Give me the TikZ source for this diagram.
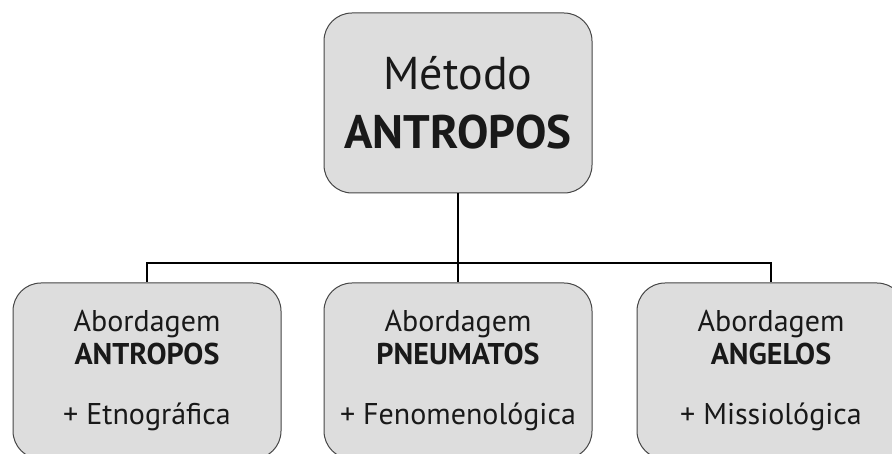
\documentclass[tikz,border=0pt]{standalone}
\usepackage{fontspec}
\setmainfont{PT Sans}
\usepackage{xcolor}
\usetikzlibrary{calc}
\definecolor{boxgray}{RGB}{221,221,221}
\definecolor{edgegray}{RGB}{70,70,70}

\begin{document}
\begin{tikzpicture} [x=1pt, y=-1pt,
    bloco/.style={draw=edgegray, fill=boxgray, rounded corners=28pt, line width=1pt,
      minimum width=268pt, align=center, text=black!90},
    ligacao/.style={black, line width=1.6pt}]
    \clip (0,0) rectangle (892,454);
    \fill[white] (0,0) rectangle (892,454);
    \node[bloco, minimum height=180pt, font=\fontsize{46}{59}\selectfont] (metodo) at (458,103)
      {Método\\\textbf{\fontsize{47}{59}\selectfont ANTROPOS}};
    \foreach \nome/\cx/\tipo/\extra in {antropos/147/ANTROPOS/Etnográfica,
                                        pneumatos/458/PNEUMATOS/Fenomenológica,
                                        angelos/771/ANGELOS/Missiológica} {
      \node[bloco, minimum height=176pt, font=\fontsize{30}{33}\selectfont] (\nome) at (\cx,371)
        {Abordagem\\\textbf{\tipo}\\[27pt]+ \extra};
    }
    \coordinate (barra) at (458,263);
    \draw[ligacao] (metodo.south) -- (barra);
    \foreach \nome in {antropos,pneumatos,angelos} {
      \draw[ligacao] (barra) -| (\nome.north);
    }
\end{tikzpicture}
\end{document}
